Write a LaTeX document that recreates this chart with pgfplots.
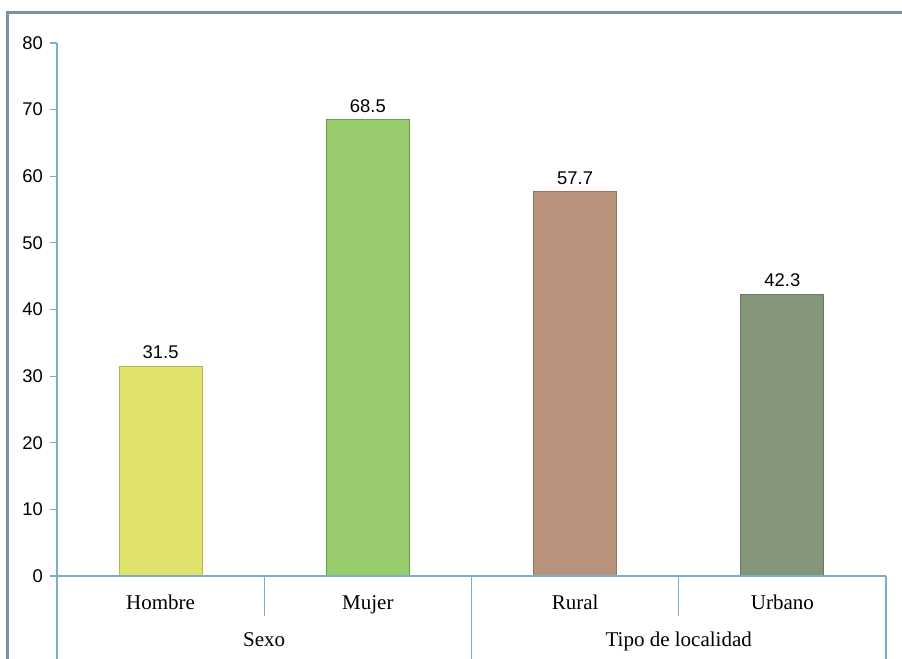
\documentclass[border=0pt]{standalone}
\usepackage{pgfplots}
\pgfplotsset{compat=1.18}
\usepackage{fontspec}
\setmainfont{Liberation Serif}
\newfontfamily\ticksans{Liberation Sans}
\definecolor{axblue}{HTML}{79AFCB}
\definecolor{frame}{HTML}{7F929C}
\definecolor{cHom}{HTML}{DFE36B}
\definecolor{cMuj}{HTML}{97CB6C}
\definecolor{cRur}{HTML}{B9927C}
\definecolor{cUrb}{HTML}{849679}
\begin{document}
\begin{tikzpicture}
\useasboundingbox[fill=white] (0,0) rectangle (451pt,329.5pt);
\draw[frame, line width=1.5pt] (3.8pt,0) -- (3.8pt,323pt) -- (451pt,323pt);
\begin{axis}[
  at={(28.5pt,41.5pt)}, anchor=south west,
  scale only axis, width=414.5pt, height=266.5pt,
  xmin=-0.5, xmax=3.5, ymin=0, ymax=80,
  axis lines*=left,
  axis line style={axblue, line width=0.6pt},
  xtick=\empty,
  ytick={0,10,...,80},
  tick style={axblue, line width=0.6pt},
  tick align=outside, major tick length=3.5pt,
  yticklabel style={font=\ticksans\fontsize{9.2}{10}\selectfont, text=black},
  /pgf/number format/assume math mode=true,
  clip=false,
  bar width=41.5pt,
  nodes near coords,
  nodes near coords style={font=\ticksans\fontsize{9.2}{10}\selectfont, text=black, /pgf/number format/fixed, /pgf/number format/precision=1, /pgf/number format/fixed zerofill},
]
\addplot[ybar, fill=cHom, draw=cHom!80!black, line width=0.5pt] coordinates {(0,31.5)};
\addplot[ybar, fill=cMuj, draw=cMuj!75!black, line width=0.5pt] coordinates {(1,68.5)};
\addplot[ybar, fill=cRur, draw=cRur!80!black, line width=0.5pt] coordinates {(2,57.7)};
\addplot[ybar, fill=cUrb, draw=cUrb!80!black, line width=0.5pt] coordinates {(3,42.3)};
% axis line redrawn on top of bars
\draw[axblue, line width=0.6pt] (axis cs:-0.5,0) -- (axis cs:3.5,0);
% category dividers
\draw[axblue, line width=0.6pt] (axis cs:-0.5,0) -- ([yshift=-45pt]axis cs:-0.5,0);
\draw[axblue, line width=0.6pt] (axis cs:0.5,0) -- ([yshift=-20pt]axis cs:0.5,0);
\draw[axblue, line width=0.6pt] (axis cs:1.5,0) -- ([yshift=-45pt]axis cs:1.5,0);
\draw[axblue, line width=0.6pt] (axis cs:2.5,0) -- ([yshift=-20pt]axis cs:2.5,0);
\draw[axblue, line width=0.6pt] (axis cs:3.5,0) -- ([yshift=-45pt]axis cs:3.5,0);
% category labels
\tikzset{catlab/.style={font=\fontsize{10.5}{12}\selectfont, anchor=base, inner sep=0pt}}
\node[catlab] at ([yshift=-17pt]axis cs:0,0) {Hombre};
\node[catlab] at ([yshift=-17pt]axis cs:1,0) {Mujer};
\node[catlab] at ([yshift=-17pt]axis cs:2,0) {Rural};
\node[catlab] at ([yshift=-17pt]axis cs:3,0) {Urbano};
\node[catlab] at ([yshift=-35.5pt]axis cs:0.5,0) {Sexo};
\node[catlab] at ([yshift=-35.5pt]axis cs:2.5,0) {Tipo de localidad};
\end{axis}
\end{tikzpicture}
\end{document}
